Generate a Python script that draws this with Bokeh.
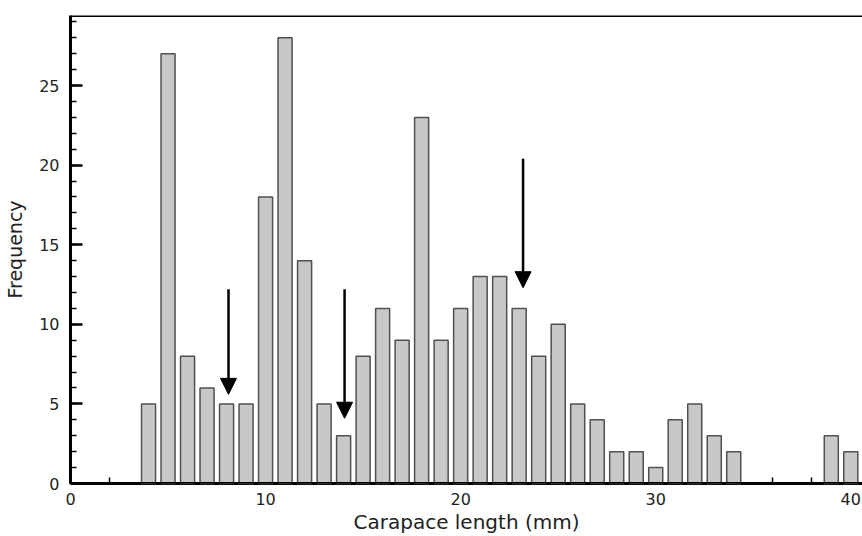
from bokeh.plotting import figure
from bokeh.models import Range1d, FixedTicker, Arrow, NormalHead, Span
from bokeh.embed import file_html
from bokeh.resources import INLINE

lengths = [4, 5, 6, 7, 8, 9, 10, 11, 12, 13, 14, 15, 16, 17, 18, 19, 20, 21, 22,
           23, 24, 25, 26, 27, 28, 29, 30, 31, 32, 33, 34, 35, 36, 37, 38, 39, 40]
freqs = [5, 27, 8, 6, 5, 5, 18, 28, 14, 5, 3, 8, 11, 9, 23, 9, 11, 13, 13,
         11, 8, 10, 5, 4, 2, 2, 1, 4, 5, 3, 2, 0, 0, 0, 0, 3, 2]

arrow_x = [8.1, 14.05, 23.2]
arrow_top = [12.2, 12.2, 20.4]
arrow_tip = [5.6, 4.1, 12.3]

FONT = "DejaVu Sans"
Y_MAX = 29.4

p = figure(width=862, height=536, output_backend="svg", toolbar_location=None,
           x_range=Range1d(0, 40.6), y_range=Range1d(0, Y_MAX),
           min_border_left=70, min_border_right=0, min_border_top=15, min_border_bottom=52)

p.grid.visible = False
p.outline_line_color = None
p.background_fill_color = "white"
p.border_fill_color = "white"

xs = [l for l, f in zip(lengths, freqs) if f > 0]
ys = [f for f in freqs if f > 0]
p.vbar(x=xs, top=ys, bottom=0, width=0.72, fill_color="#c8c8c8",
       line_color="#505050", line_width=1.5, level="overlay")

for ax_, top_, tip_ in zip(arrow_x, arrow_top, arrow_tip):
    p.add_layout(Arrow(end=NormalHead(size=16, fill_color="black", line_color="black"),
                       x_start=ax_, y_start=top_, x_end=ax_, y_end=tip_,
                       line_color="black", line_width=2.5, level="overlay"))

# top border line
p.add_layout(Span(location=Y_MAX, dimension="width", line_color="black",
                  line_width=3, level="overlay"))

# y axis
ya = p.left[0]
ya.ticker = FixedTicker(ticks=[0, 5, 10, 15, 20, 25],
                        minor_ticks=list(range(0, 30)))
ya.axis_line_width = 3
ya.axis_line_color = "black"
ya.major_tick_in = 12
ya.major_tick_out = 0
ya.minor_tick_in = 6
ya.minor_tick_out = 0
ya.major_tick_line_width = 2.5
ya.minor_tick_line_width = 1.5
ya.major_label_text_font = FONT
ya.major_label_text_font_size = "16px"
ya.major_label_text_color = "#222222"
ya.major_label_standoff = 11
ya.axis_label = "Frequency"
ya.axis_label_text_font = FONT
ya.axis_label_text_font_size = "19px"
ya.axis_label_text_font_style = "normal"
ya.axis_label_text_color = "#222222"
ya.axis_label_standoff = 10

xa = p.below[0]
xa.ticker = FixedTicker(ticks=[0, 10, 20, 30, 40],
                        minor_ticks=list(range(0, 42, 2)))
xa.axis_line_width = 3
xa.axis_line_color = "black"
xa.major_tick_in = 12
xa.major_tick_out = 0
xa.minor_tick_in = 6
xa.minor_tick_out = 0
xa.major_tick_line_width = 2.5
xa.minor_tick_line_width = 1.5
xa.major_label_text_font = FONT
xa.major_label_text_font_size = "16px"
xa.major_label_text_color = "#222222"
xa.major_label_standoff = 9
xa.axis_label = "Carapace length (mm)"
xa.axis_label_text_font = FONT
xa.axis_label_text_font_size = "20px"
xa.axis_label_text_font_style = "normal"
xa.axis_label_text_color = "#222222"
xa.axis_label_standoff = 2

p.add_layout(Span(location=0, dimension="width", line_color="black",
                  line_width=3, level="overlay"))

open("out.html", "w").write(file_html(p, INLINE))
